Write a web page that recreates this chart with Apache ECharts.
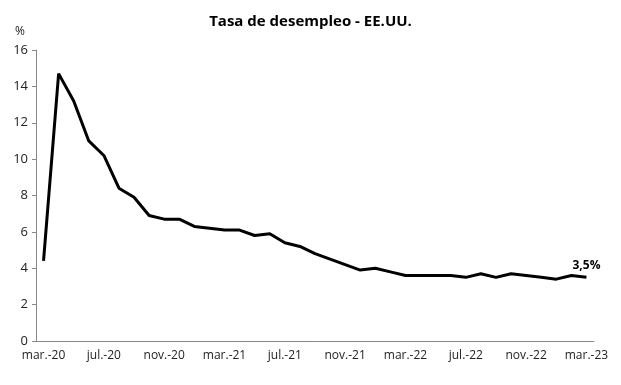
<!DOCTYPE html>
<html><head><meta charset="utf-8">
<script src="https://cdn.jsdelivr.net/npm/echarts@6/dist/echarts.min.js"></script>
<style>html,body{margin:0;padding:0;background:#fff}#c{width:621px;height:385px}</style>
</head><body><div id="c"></div>
<script>
const months = ['mar.-20','abr.-20','may.-20','jun.-20','jul.-20','ago.-20','sep.-20','oct.-20','nov.-20','dic.-20',
 'ene.-21','feb.-21','mar.-21','abr.-21','may.-21','jun.-21','jul.-21','ago.-21','sep.-21','oct.-21','nov.-21','dic.-21',
 'ene.-22','feb.-22','mar.-22','abr.-22','may.-22','jun.-22','jul.-22','ago.-22','sep.-22','oct.-22','nov.-22','dic.-22',
 'ene.-23','feb.-23','mar.-23'];
const unemployment = [4.4,14.7,13.2,11.0,10.2,8.4,7.9,6.9,6.7,6.7,
 6.3,6.2,6.1,6.1,5.8,5.9,5.4,5.2,4.8,4.5,4.2,3.9,
 4.0,3.8,3.6,3.6,3.6,3.6,3.5,3.7,3.5,3.7,3.6,3.5,
 3.4,3.6,3.5];
const lastLabel = '3,5%';
const font = 'Open Sans';
const chart = echarts.init(document.getElementById('c'));
chart.setOption({
  animation:false,
  title:{text:'Tasa de desempleo - EE.UU.',left:'center',top:9,
    textStyle:{fontFamily:font,fontSize:15,fontWeight:'bold',color:'#000'}},
  grid:{left:36,right:27,top:50,bottom:44},
  xAxis:{type:'category',data:months,boundaryGap:true,
    axisLine:{lineStyle:{color:'#888'}},
    axisTick:{interval:3,length:4,lineStyle:{color:'#888'}},
    axisLabel:{interval:3,color:'#222',fontFamily:font,fontSize:12,margin:9}},
  yAxis:{type:'value',min:0,max:16,interval:2,name:'%',
    nameLocation:'end',nameGap:12,nameTextStyle:{color:'#222',fontFamily:font,fontSize:12,align:'right',padding:[0,11,0,0]},
    axisLine:{show:true,lineStyle:{color:'#888'}},
    axisTick:{show:true,length:4,inside:false,lineStyle:{color:'#888'}},
    splitLine:{show:false},
    axisLabel:{color:'#222',fontFamily:font,fontSize:13,margin:8}},
  series:[{type:'line',
    data:unemployment.map((v,i)=>i===unemployment.length-1?{value:v,label:{show:true,formatter:lastLabel,position:'top',distance:6,fontWeight:'bold',fontFamily:font,fontSize:12,color:'#000'}}:v),
    symbol:'circle',symbolSize:0,showSymbol:true,showAllSymbol:true,
    itemStyle:{color:'#000'},
    lineStyle:{color:'#000',width:3},
    label:{show:false}}]
});
</script></body></html>
